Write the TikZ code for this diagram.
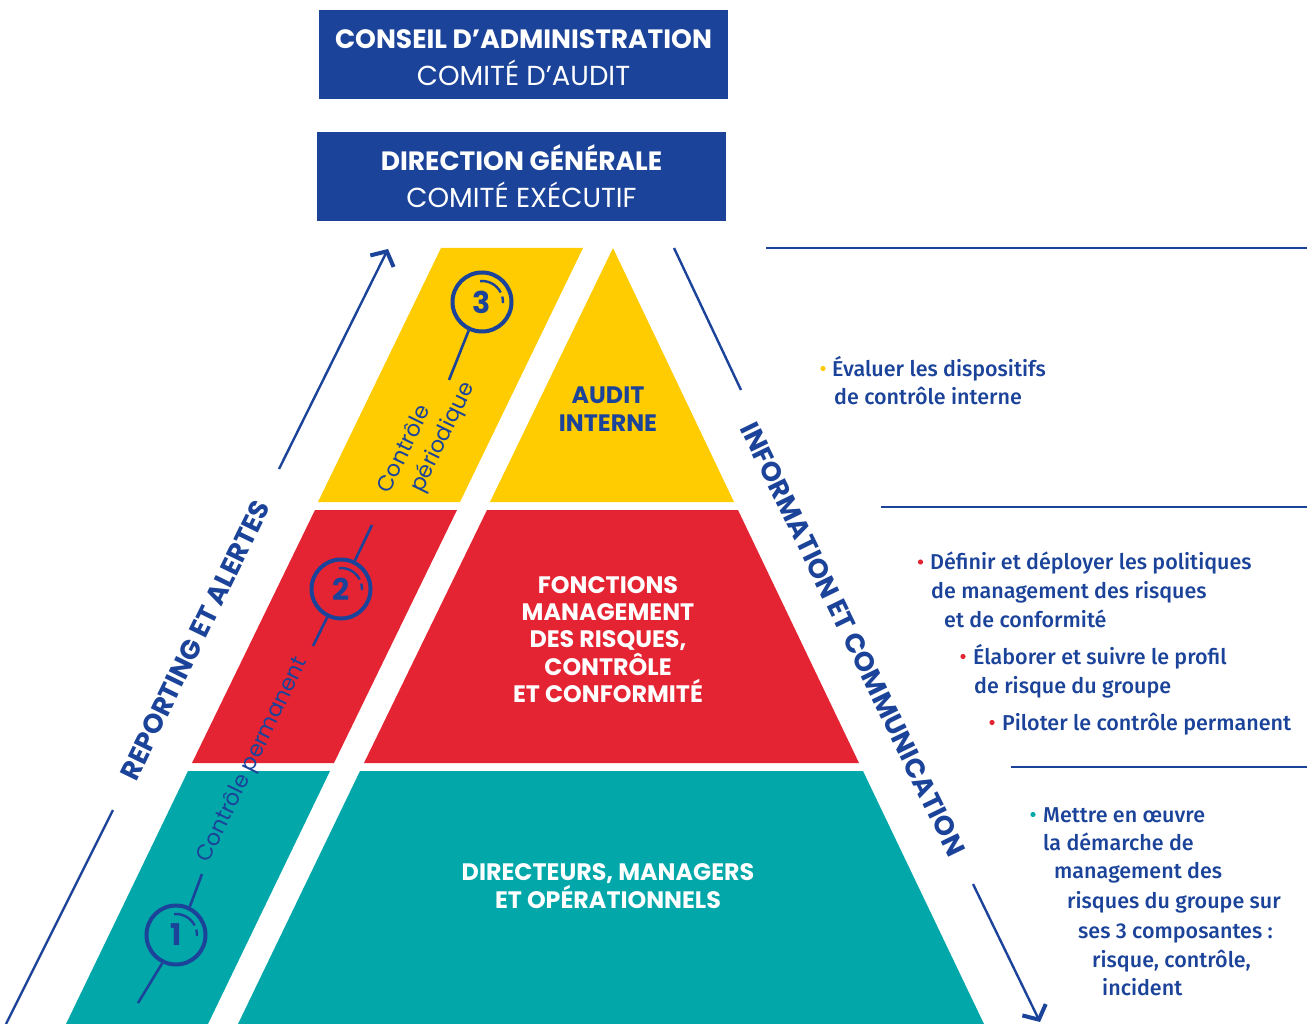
\documentclass[tikz,border=0pt]{standalone}
\usepackage{fontspec}
\setmainfont{Poppins}
\newfontfamily\listfont{Fira Sans}[UprightFont=* Medium]
\usetikzlibrary{arrows.meta}

\definecolor{navy}{HTML}{1B4399}
\definecolor{gold}{HTML}{FECC00}
\definecolor{scarlet}{HTML}{E52433}
\definecolor{lagoon}{HTML}{02A8A9}

\tikzset{
	box/.style={fill=navy,text=white,minimum width=409pt,minimum height=89pt,inner sep=0pt,align=center,font=\fontsize{27.5}{37}\selectfont},
	ring/.style={circle,draw=navy,line width=4pt,minimum size=59pt,inner sep=0pt,text=navy,font=\bfseries\fontsize{30}{30}\selectfont},
	stem/.style={draw=navy,line width=2.6pt},
	tick/.style={draw=navy,line width=2.4pt},
	flow/.style={draw=navy,line width=2.4pt},
	tip/.style={-{Straight Barb[length=11pt,width=26pt,line width=4pt]}},
	rule/.style={draw=navy,line width=1.8pt},
	tier/.style={text=white,align=center,font=\bfseries\fontsize{23.8}{27.3}\selectfont},
	side/.style={text=navy,font=\bfseries\fontsize{27}{27}\selectfont},
	note/.style={text=navy,font=\fontsize{22}{29}\selectfont},
	item/.style={anchor=base west,inner sep=0pt,text=navy,font=\listfont\fontsize{21.5}{21.5}\selectfont},
}

\begin{document}
\begin{tikzpicture}[x=1pt,y=-1pt]
	\useasboundingbox (0,0) rectangle (1309,1024);
	% governance
	\node[box] (board) at (523.5,54.5) {{\rule{0pt}{25pt}\bfseries\fontsize{26.5}{37}\selectfont CONSEIL D’ADMINISTRATION}\\COMITÉ D’AUDIT};
	\node[box] (exec) at (521.5,176.5) {{\bfseries\fontsize{26.5}{37}\selectfont DIRECTION GÉNÉRALE}\\COMITÉ EXÉCUTIF};
	% pyramid
	\fill[gold] (441,248)--(583,248)--(460,502)--(318,502)--cycle;
	\fill[gold] (613,248)--(734,502)--(490,502)--cycle;
	\fill[scarlet] (315,510)--(457,510)--(334,763)--(192,763)--cycle;
	\fill[scarlet] (487,510)--(738,510)--(859,763)--(364,763)--cycle;
	\fill[lagoon] (188,771)--(330,771)--(208,1024)--(66,1024)--cycle;
	\fill[lagoon] (360,771)--(863,771)--(984,1024)--(238,1024)--cycle;
	\node[tier,text=navy] (audit) at (608,409) {AUDIT\\INTERNE};
	\node[tier] (risk) at (608,639.5) {FONCTIONS\\MANAGEMENT\\DES RISQUES,\\CONTRÔLE\\ET CONFORMITÉ};
	\node[tier] (ops) at (608,886) {DIRECTEURS, MANAGERS\\ET OPÉRATIONNELS};
	% lines of defence
	\node[ring] (c3) at (482,302) {3};
	\node[ring] (c2) at (341,589) {2};
	\node[ring] (c1) at (176,935) {1};
	\coordinate (s3) at (449,380);
	\coordinate (s2a) at (372,525);
	\coordinate (s2b) at (313,646);
	\coordinate (s1a) at (202,874);
	\coordinate (s1b) at (138,1003);
	\draw[stem] (c3.245)--(s3);
	\draw[stem] (c2.64)--(s2a);
	\draw[stem] (c2.244)--(s2b);
	\draw[stem] (c1.64)--(s1a);
	\draw[stem] (c1.244)--(s1b);
	\draw[tick] (c3) ++(-95:21) arc[start angle=-95,end angle=-27,radius=21];
	\draw[tick] (c3) ++(-15:21) arc[start angle=-15,end angle=3,radius=21];
	\draw[tick] (c2) ++(-95:21) arc[start angle=-95,end angle=-27,radius=21];
	\draw[tick] (c2) ++(-15:21) arc[start angle=-15,end angle=3,radius=21];
	\draw[tick] (c1) ++(-95:21) arc[start angle=-95,end angle=-27,radius=21];
	\draw[tick] (c1) ++(-15:21) arc[start angle=-15,end angle=3,radius=21];
	\node[note,rotate=64,align=left] (per3) at (427,438) {Contrôle\\\hspace*{15pt}périodique};
	\node[note,rotate=64] (perm) at (253,760) {Contrôle permanent};
	% flows
	\node[side,rotate=64] (rep) at (195,640) {REPORTING ET ALERTES};
	\node[side,rotate=-64] (info) at (853,639) {INFORMATION ET COMMUNICATION};
	\coordinate (rep0) at (6,1024);
	\coordinate (rep1) at (113,810);
	\coordinate (rep2) at (279,469);
	\coordinate (rep3) at (388,249);
	\draw[flow] (rep0)--(rep1);
	\draw[flow,tip] (rep2)--(rep3);
	\coordinate (info0) at (674,248);
	\coordinate (info1) at (741,390);
	\coordinate (info2) at (973,884);
	\coordinate (info3) at (1040,1022);
	\draw[flow] (info0)--(info1);
	\draw[flow,tip] (info2)--(info3);
	% roles
	\coordinate (r1a) at (766,248); \coordinate (r1b) at (1307,248);
	\coordinate (r2a) at (881,507); \coordinate (r2b) at (1307,507);
	\coordinate (r3a) at (1011,767); \coordinate (r3b) at (1307,767);
	\draw[rule] (r1a)--(r1b);
	\draw[rule] (r2a)--(r2b);
	\draw[rule] (r3a)--(r3b);
	\fill[gold] (823,368.5) circle[radius=2.6];
	\node[item] (a1) at (832,376) {Évaluer les dispositifs};
	\node[item] (a2) at (834,404) {de contrôle interne};
	\fill[scarlet] (920.5,562) circle[radius=2.6];
	\node[item] (b1) at (930,569.5) {Définir et déployer les politiques};
	\node[item] (b2) at (931,598.5) {de management des risques};
	\node[item] (b3) at (944,627) {et de conformité};
	\fill[scarlet] (963,656.5) circle[radius=2.6];
	\node[item] (b4) at (973,664) {Élaborer et suivre le profil};
	\node[item] (b5) at (974,693) {de risque du groupe};
	\fill[scarlet] (992,722.5) circle[radius=2.6];
	\node[item] (b6) at (1002,730) {Piloter le contrôle permanent};
	\fill[lagoon] (1033,814.5) circle[radius=2.6];
	\node[item] (d1) at (1043,822) {Mettre en œuvre};
	\node[item] (d2) at (1043,850) {la démarche de};
	\node[item] (d3) at (1054,878.5) {management des};
	\node[item] (d4) at (1067,908.5) {risques du groupe sur};
	\node[item] (d5) at (1078,938.5) {ses 3 composantes :};
	\node[item] (d6) at (1092,967) {risque, contrôle,};
	\node[item] (d7) at (1102,995) {incident};
\end{tikzpicture}
\end{document}
